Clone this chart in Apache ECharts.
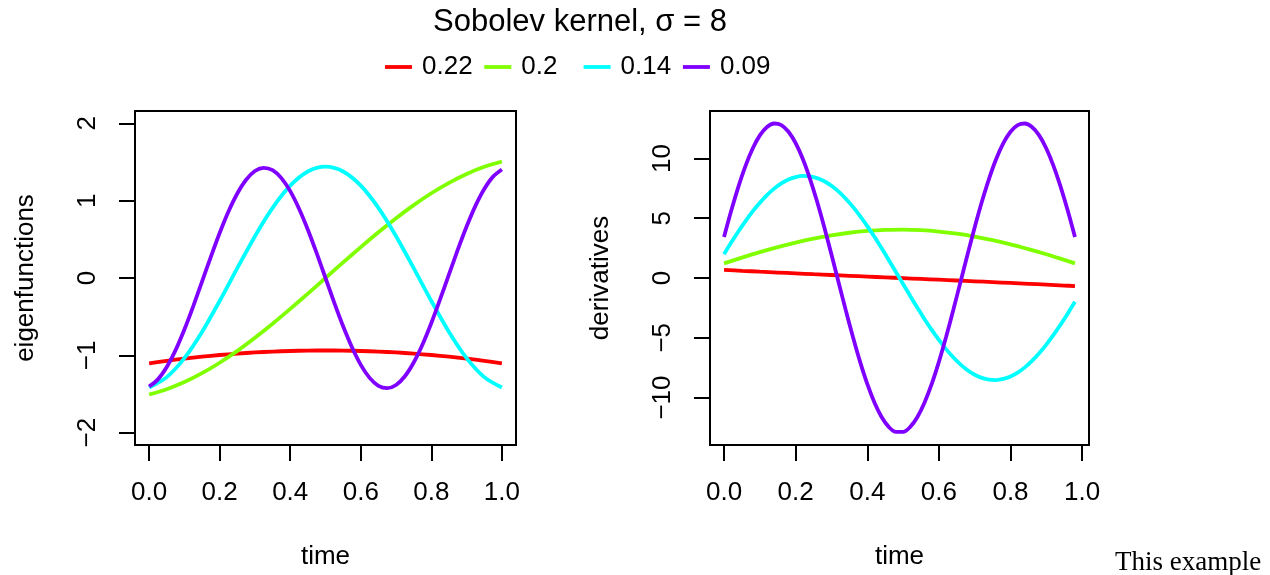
<!DOCTYPE html>
<html>
<head>
<meta charset="utf-8">
<title>Sobolev kernel</title>
<script src="https://cdn.jsdelivr.net/npm/echarts@6.0.0/dist/echarts.min.js"></script>
<style>
  html, body { margin: 0; padding: 0; background: #fff; }
  #main { width: 1270px; height: 575px; }
</style>
</head>
<body>
<div id="main"></div>
<script>
// eigenvalues shown in the legend
const legendNames = ['0.22', '0.2', '0.14', '0.09']
const lineColors = ['#FF0000', '#80FF00', '#00FFFF', '#8000FF']

// time grids (the derivatives stop at 0.98)
const timeLeft = [0, 0.05, 0.1, 0.15, 0.2, 0.25, 0.3, 0.35, 0.4, 0.45, 0.5,
  0.55, 0.6, 0.65, 0.7, 0.75, 0.8, 0.85, 0.9, 0.95, 1]
const timeLeftFine = [0, 0.025, 0.05, 0.075, 0.1, 0.125, 0.15, 0.175, 0.2, 0.225, 0.25,
  0.275, 0.3, 0.325, 0.35, 0.375, 0.4, 0.425, 0.45, 0.475, 0.5,
  0.525, 0.55, 0.575, 0.6, 0.625, 0.65, 0.675, 0.7, 0.725, 0.75,
  0.775, 0.8, 0.825, 0.85, 0.875, 0.9, 0.925, 0.95, 0.975, 1]
const timeRight = [0, 0.05, 0.1, 0.15, 0.2, 0.25, 0.3, 0.35, 0.4, 0.45, 0.5,
  0.55, 0.6, 0.65, 0.7, 0.75, 0.8, 0.85, 0.9, 0.95, 0.98]
const timeRightFine = [0, 0.02, 0.04, 0.06, 0.08, 0.1, 0.12, 0.14, 0.16, 0.18, 0.2, 0.22, 0.24,
  0.26, 0.28, 0.3, 0.32, 0.34, 0.36, 0.38, 0.4, 0.42, 0.44, 0.46, 0.48,
  0.5, 0.52, 0.54, 0.56, 0.58, 0.6, 0.62, 0.64, 0.66, 0.68, 0.7, 0.72, 0.74,
  0.76, 0.78, 0.8, 0.82, 0.84, 0.86, 0.88, 0.9, 0.92, 0.94, 0.96, 0.98]

// left panel: eigenfunctions
const eigRed = [-1.105, -1.072, -1.043, -1.018, -0.996, -0.978, -0.963, -0.952, -0.944, -0.939, -0.937,
  -0.939, -0.944, -0.952, -0.963, -0.978, -0.996, -1.018, -1.043, -1.072, -1.105]
const eigGreen = [-1.507, -1.438, -1.346, -1.231, -1.096, -0.943, -0.773, -0.592, -0.400, -0.202, 0,
  0.202, 0.400, 0.592, 0.773, 0.943, 1.096, 1.231, 1.346, 1.438, 1.507]
const eigCyan = [-1.417, -1.282, -1.036, -0.697, -0.297, 0.127, 0.541, 0.907, 1.194, 1.377, 1.44,
  1.377, 1.194, 0.907, 0.541, 0.127, -0.297, -0.697, -1.036, -1.282, -1.417]
const eigPurple = [-1.403, -1.311, -1.151, -0.933, -0.666, -0.366, -0.047, 0.274, 0.582, 0.860, 1.093,
  1.271, 1.384, 1.425, 1.394, 1.292, 1.123, 0.896, 0.625, 0.321, 0,
  -0.321, -0.625, -0.896, -1.123, -1.292, -1.394, -1.425, -1.384, -1.271, -1.093,
  -0.860, -0.582, -0.274, 0.047, 0.366, 0.666, 0.933, 1.151, 1.311, 1.403]

// right panel: derivatives
const derRed = [0.675, 0.600, 0.527, 0.456, 0.386, 0.317, 0.250, 0.184, 0.118, 0.052, -0.013,
  -0.078, -0.144, -0.210, -0.277, -0.345, -0.414, -0.484, -0.556, -0.630, -0.675]
const derGreen = [1.222, 1.709, 2.166, 2.587, 2.965, 3.295, 3.569, 3.785, 3.938, 4.025, 4.045,
  3.997, 3.884, 3.706, 3.467, 3.169, 2.819, 2.420, 1.987, 1.513, 1.222]
const derCyan = [1.996, 2.964, 3.891, 4.763, 5.569, 6.296, 6.934, 7.475, 7.911, 8.236, 8.445, 8.536, 8.507,
  8.358, 8.092, 7.712, 7.223, 6.634, 5.951, 5.184, 4.345, 3.444, 2.495, 1.511, 0.506,
  -0.506, -1.511, -2.495, -3.444, -4.345, -5.184, -5.951, -6.634, -7.223, -7.712, -8.092, -8.358, -8.507,
  -8.536, -8.445, -8.236, -7.911, -7.475, -6.934, -6.296, -5.569, -4.763, -3.891, -2.964, -1.996]
const derPurple = [3.425, 5.618, 7.627, 9.385, 10.836, 11.931, 12.634, 12.923, 12.788, 12.233, 11.276, 9.950, 8.297,
  6.372, 4.238, 1.964, -0.374, -2.699, -4.936, -7.012, -8.857, -10.410, -11.623, -12.454, -12.877,
  -12.877, -12.454, -11.623, -10.410, -8.857, -7.012, -4.936, -2.699, -0.374, 1.964, 4.238, 6.372, 8.297,
  9.950, 11.276, 12.233, 12.788, 12.923, 12.634, 11.931, 10.836, 9.385, 7.627, 5.618, 3.425]

// tick labels
const timeTicks = [0, 0.2, 0.4, 0.6, 0.8, 1]
const eigTicks = [-2, -1, 0, 1, 2]
const derTicks = [-10, -5, 0, 5, 10]

const FONT = '"Liberation Sans", Arial, Helvetica, sans-serif'
const pairs = (xs, ys) => xs.map((x, i) => [x, ys[i]])
const minus = v => String(v).replace('-', '\u2212')

const chart = echarts.init(document.getElementById('main'))

//x axis, same look for both panels
const timeAxis = (idx, min, max) => ({
  type: 'value',
  gridIndex: idx,
  min: min,
  max: max,
  axisLine: { show: false, onZero: false },
  splitLine: { show: false },
  axisTick: {
    customValues: timeTicks,
    length: 16,
    lineStyle: { color: '#000', width: 2 }
  },
  axisLabel: {
    customValues: timeTicks,
    formatter: v => v.toFixed(1),
    color: '#000',
    fontSize: 26,
    fontFamily: FONT,
    margin: 48,
    verticalAlign: 'middle'
  },
  name: 'time',
  nameLocation: 'middle',
  nameGap: 112,
  nameTextStyle: { color: '#000', fontSize: 26, fontFamily: FONT, verticalAlign: 'middle' }
})

const valueAxis = (idx, lim, ticks, label) => ({
  type: 'value',
  gridIndex: idx,
  min: -lim,
  max: lim,
  axisLine: { show: false, onZero: false },
  splitLine: { show: false },
  axisTick: {
    customValues: ticks,
    length: 16,
    lineStyle: { color: '#000', width: 2 }
  },
  axisLabel: {
    customValues: ticks,
    formatter: minus,
    rotate: 90,
    align: 'center',
    verticalAlign: 'middle',
    color: '#000',
    fontSize: 26,
    fontFamily: FONT,
    margin: 47
  },
  name: label,
  nameLocation: 'middle',
  nameRotate: 90,
  nameGap: 109,
  nameTextStyle: { color: '#000', fontSize: 26, fontFamily: FONT, verticalAlign: 'middle' }
})

const line = (name, color, idx, xs, ys) => ({
  name: name,
  type: 'line',
  xAxisIndex: idx,
  yAxisIndex: idx,
  data: pairs(xs, ys),
  smooth: 0.3,
  showSymbol: false,
  symbol: 'none',
  color: color,
  lineStyle: { color: color, width: 3.8 }
})

// R spaces legend entries evenly, so one legend block per entry
const legends = legendNames.map((n, i) => ({
  data: [n],
  left: 385 + i * 99.3,
  top: 54,
  padding: 0,
  icon: 'rect',
  itemWidth: 27,
  itemHeight: 3.8,
  selectedMode: false,
  textStyle: { color: '#000', fontSize: 26, fontFamily: FONT, padding: [0, 0, 0, 5] }
}))

const option = {
  animation: false,
  backgroundColor: '#fff',
  textStyle: { fontFamily: FONT },
  title: {
    text: 'Sobolev kernel, \u03c3 = 8',
    left: 433,
    top: 7,
    padding: 0,
    textStyle: { color: '#000', fontSize: 31, fontWeight: 'normal', fontFamily: FONT }
  },
  legend: legends,
  grid: [
    { left: 135, top: 111, width: 381, height: 338, show: true, borderColor: '#000', borderWidth: 2 },
    { left: 710, top: 111, width: 379, height: 338, show: true, borderColor: '#000', borderWidth: 2 }
  ],
  xAxis: [
    timeAxis(0, -0.04, 1.04),
    timeAxis(1, -0.0392, 1.0192)
  ],
  yAxis: [
    valueAxis(0, 2.16, eigTicks, 'eigenfunctions'),
    valueAxis(1, 13.97, derTicks, 'derivatives')
  ],
  graphic: [
    {
      type: 'text',
      left: 1115,
      top: 549,
      style: { text: 'This example', font: '27px "Liberation Serif", "DejaVu Serif", serif', fill: '#000' }
    }
  ],
  series: [
    line(legendNames[0], lineColors[0], 0, timeLeft, eigRed),
    line(legendNames[1], lineColors[1], 0, timeLeft, eigGreen),
    line(legendNames[2], lineColors[2], 0, timeLeft, eigCyan),
    line(legendNames[3], lineColors[3], 0, timeLeftFine, eigPurple),
    line(legendNames[0], lineColors[0], 1, timeRight, derRed),
    line(legendNames[1], lineColors[1], 1, timeRight, derGreen),
    line(legendNames[2], lineColors[2], 1, timeRightFine, derCyan),
    line(legendNames[3], lineColors[3], 1, timeRightFine, derPurple)
  ]
}

chart.setOption(option)
</script>
</body>
</html>
